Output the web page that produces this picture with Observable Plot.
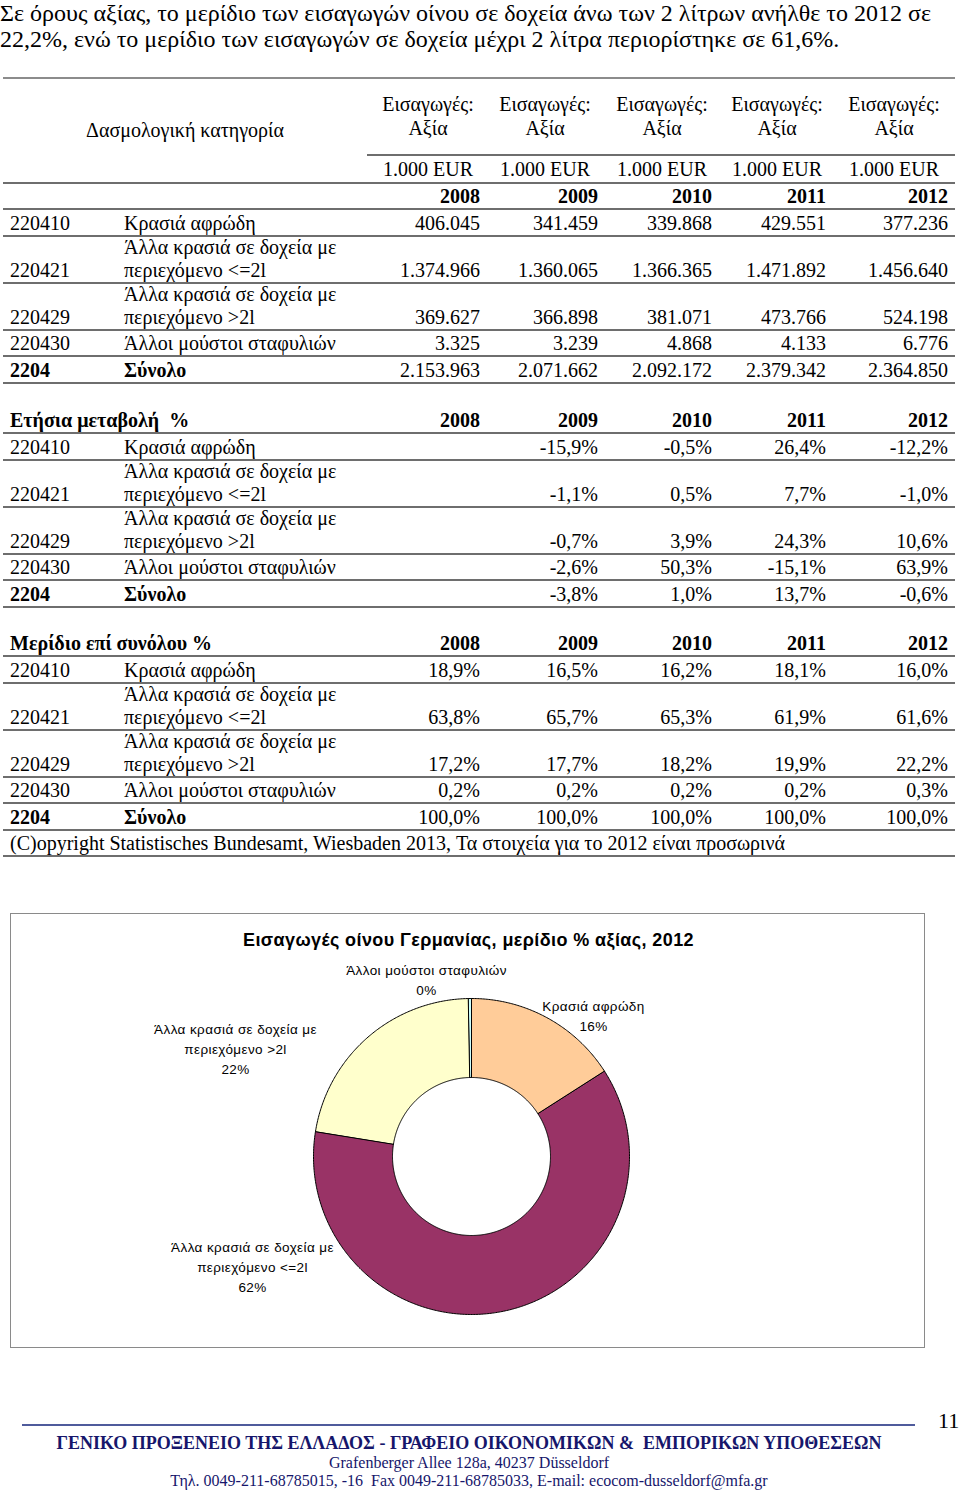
<!DOCTYPE html>
<html>
<head>
<meta charset="utf-8">
<script src="https://cdn.jsdelivr.net/npm/d3@7"></script>
<script src="https://cdn.jsdelivr.net/npm/@observablehq/plot@0.6"></script>
<style>
  html, body { margin: 0; padding: 0; background: #fff; }
  #page { position: relative; width: 960px; height: 1493px; overflow: hidden; font-family: "Liberation Serif", "Times New Roman", serif; color: #000; }
  .t { position: absolute; white-space: pre; }
  .r { position: absolute; }
  #chartbox { position: absolute; left: 10px; top: 913px; width: 915px; height: 435px; box-sizing: border-box; border: 1px solid #8a8a8a; background: #fff; }
</style>
</head>
<body>
<div id="page"></div>
<script>
// ---------------- DATA ----------------
const introLines = [
  "Σε όρους αξίας, το μερίδιο των εισαγωγών οίνου σε δοχεία άνω των 2 λίτρων ανήλθε το 2012 σε",
  "22,2%, ενώ το μερίδιο των εισαγωγών σε δοχεία μέχρι 2 λίτρα περιορίστηκε σε 61,6%."
];
const years = [2008, 2009, 2010, 2011, 2012];
const headerCategory = "Δασμολογική κατηγορία";
const headerCol = ["Εισαγωγές:", "Αξία"];
const unitLabel = "1.000 EUR";
const codes = ["220410", "220421", "220429", "220430", "2204"];
const descriptions = [
  ["Κρασιά αφρώδη"],
  ["Άλλα κρασιά σε δοχεία με", "περιεχόμενο <=2l"],
  ["Άλλα κρασιά σε δοχεία με", "περιεχόμενο >2l"],
  ["Άλλοι μούστοι σταφυλιών"],
  ["Σύνολο"]
];
const valueRows = [
  [406045, 341459, 339868, 429551, 377236],
  [1374966, 1360065, 1366365, 1471892, 1456640],
  [369627, 366898, 381071, 473766, 524198],
  [3325, 3239, 4868, 4133, 6776],
  [2153963, 2071662, 2092172, 2379342, 2364850]
];
const changeTitle = "Ετήσια μεταβολή  %";
const changeRows = [
  [null, -15.9, -0.5, 26.4, -12.2],
  [null, -1.1, 0.5, 7.7, -1.0],
  [null, -0.7, 3.9, 24.3, 10.6],
  [null, -2.6, 50.3, -15.1, 63.9],
  [null, -3.8, 1.0, 13.7, -0.6]
];
const shareTitle = "Μερίδιο επί συνόλου %";
const shareRows = [
  [18.9, 16.5, 16.2, 18.1, 16.0],
  [63.8, 65.7, 65.3, 61.9, 61.6],
  [17.2, 17.7, 18.2, 19.9, 22.2],
  [0.2, 0.2, 0.2, 0.2, 0.3],
  [100.0, 100.0, 100.0, 100.0, 100.0]
];
const copyright = "(C)opyright Statistisches Bundesamt, Wiesbaden 2013, Τα στοιχεία για το 2012 είναι προσωρινά";

const chartTitle = "Εισαγωγές οίνου Γερμανίας, μερίδιο % αξίας, 2012";
const sliceNames = ["Κρασιά αφρώδη", "Άλλα κρασιά σε δοχεία με\nπεριεχόμενο <=2l", "Άλλα κρασιά σε δοχεία με\nπεριεχόμενο >2l", "Άλλοι μούστοι σταφυλιών"];
const sliceValues = [377236, 1456640, 524198, 6776];
const sliceColors = ["#FFCC99", "#993366", "#FFFFCC", "#CCFFFF"];

const footerTitle = "ΓΕΝΙΚΟ ΠΡΟΞΕΝΕΙΟ ΤΗΣ ΕΛΛΑΔΟΣ - ΓΡΑΦΕΙΟ ΟΙΚΟΝΟΜΙΚΩΝ &  ΕΜΠΟΡΙΚΩΝ ΥΠΟΘΕΣΕΩΝ";
const footerAddress = "Grafenberger Allee 128a, 40237 Düsseldorf";
const footerContact = "Τηλ. 0049-211-68785015, -16  Fax 0049-211-68785033, E-mail: ecocom-dusseldorf@mfa.gr";
const pageNumber = "11";

// ---------------- LAYOUT ----------------
const page = document.getElementById("page");
const FS = 20;
function txt(s, x, y, o = {}) {
  const size = o.size || FS;
  const lh = Math.round(size * 1.3);
  const d = document.createElement("div");
  d.className = "t";
  d.textContent = s;
  d.style.fontSize = size + "px";
  d.style.lineHeight = lh + "px";
  d.style.top = (y - lh / 2) + "px";
  if (o.weight) d.style.fontWeight = o.weight;
  if (o.family) d.style.fontFamily = o.family;
  if (o.color) d.style.color = o.color;
  if (o.spacing) d.style.letterSpacing = o.spacing + "px";
  const align = o.align || "left";
  if (align === "left") d.style.left = x + "px";
  else if (align === "right") { d.style.right = (960 - x) + "px"; }
  else { d.style.left = (x - 480) + "px"; d.style.width = "960px"; d.style.textAlign = "center"; }
  page.appendChild(d);
  return d;
}
function rule(x1, x2, y, th = 2, color = "#6e6e6e") {
  const d = document.createElement("div");
  d.className = "r";
  d.style.left = x1 + "px"; d.style.width = (x2 - x1) + "px";
  d.style.top = (y - th / 2) + "px"; d.style.height = th + "px";
  d.style.background = color;
  page.appendChild(d);
}
const fmtInt = n => String(n).replace(/\B(?=(\d{3})+(?!\d))/g, ".");
const fmtPct = v => v == null ? "" : v.toFixed(1).replace(".", ",") + "%";

// intro
txt(introLines[0], 0, 13, { size: 24 });
txt(introLines[1], 0, 39, { size: 24 });

const colRight = [480, 598, 712, 826, 948];
const colCenter = [428, 545, 662, 777, 894];
const X0 = 3, X1 = 955, codeX = 10, descX = 124;
const SINGLE = 26.5, DOUBLE = 47;

// header
rule(X0, X1, 78, 2.5, "#8c8c8c");
txt(headerCategory, 185, 130, { align: "center" });
colCenter.forEach(c => { txt(headerCol[0], c, 104, { align: "center" }); txt(headerCol[1], c, 128, { align: "center" }); });
rule(367, X1, 155);
colCenter.forEach(c => txt(unitLabel, c, 169, { align: "center" }));
rule(X0, X1, 183);
years.forEach((yr, i) => txt(String(yr), colRight[i], 196, { align: "right", weight: "bold" }));
rule(X0, X1, 209);

function drawRows(top, rows, fmt) {
  let y = top;
  codes.forEach((code, i) => {
    const lines = descriptions[i];
    const h = lines.length > 1 ? DOUBLE : SINGLE;
    const bold = i === codes.length - 1 ? "bold" : null;
    const lastY = lines.length > 1 ? y + 34 : y + 13.5;
    if (lines.length > 1) { txt(lines[0], descX, y + 11); txt(lines[1], descX, y + 34); }
    else txt(lines[0], descX, lastY, { weight: bold });
    txt(code, codeX, lastY, { weight: bold });
    rows[i].forEach((v, j) => { const s = fmt(v); if (s) txt(s, colRight[j], lastY, { align: "right" }); });
    y += h;
    rule(X0, X1, y);
  });
  return y;
}
drawRows(209, valueRows, fmtInt);

// change section
txt(changeTitle, codeX, 420, { weight: "bold" });
years.forEach((yr, i) => txt(String(yr), colRight[i], 420, { align: "right", weight: "bold" }));
rule(X0, X1, 433);
drawRows(433, changeRows, fmtPct);

// share section
txt(shareTitle, codeX, 643, { weight: "bold" });
years.forEach((yr, i) => txt(String(yr), colRight[i], 643, { align: "right", weight: "bold" }));
rule(X0, X1, 656);
const endY = drawRows(656, shareRows, fmtPct);
txt(copyright, codeX, endY + 13.5);
rule(X0, X1, endY + SINGLE);

// ---------------- CHART ----------------
const box = document.createElement("div");
box.id = "chartbox";
page.appendChild(box);

const W = 913, H = 433;
const cx = 460, cy = 242, R = 158, r = 79;
const total = d3.sum(sliceValues);
const pcts = sliceValues.map(v => Math.round(v / total * 100));
const pie = d3.pie().sort(null).value(d => d)(sliceValues);
const slicePts = [];
pie.forEach((p, i) => {
  const a0 = p.startAngle, a1 = p.endAngle;
  const n = Math.max(2, Math.ceil((a1 - a0) / 0.01));
  for (let k = 0; k <= n; k++) { const a = a0 + (a1 - a0) * k / n; slicePts.push({ slice: sliceNames[i], x: cx + R * Math.sin(a), y: cy - R * Math.cos(a) }); }
  for (let k = n; k >= 0; k--) { const a = a0 + (a1 - a0) * k / n; slicePts.push({ slice: sliceNames[i], x: cx + r * Math.sin(a), y: cy - r * Math.cos(a) }); }
});

// label anchor positions (layout)
const labelPos = [[582, 100], [241, 351], [224, 133], [415, 64.5]];
const labels = sliceNames.map((name, i) => ({ text: name + "\n" + pcts[i] + "%", x: labelPos[i][0], y: labelPos[i][1] }));

const chart = Plot.plot({
  width: W, height: H, margin: 0,
  x: { domain: [0, W], range: [0, W], axis: null },
  y: { domain: [0, H], range: [0, H], axis: null },
  color: { domain: sliceNames, range: sliceColors },
  style: { background: "transparent", fontFamily: "Liberation Sans, Arial, sans-serif" },
  marks: [
    Plot.line(slicePts, { x: "x", y: "y", z: "slice", fill: "slice", stroke: "#000", strokeWidth: 1, curve: "linear-closed" }),
    Plot.text(labels, { x: "x", y: "y", text: "text", fontSize: 13.5, lineHeight: 1.48, lineAnchor: "middle", fill: "#000", fontFamily: "Liberation Sans, Arial, sans-serif", style: "letter-spacing:0.4px" }),
    Plot.text([chartTitle], { x: () => 457, y: () => 26, text: d => d, fontSize: 18, fontWeight: "bold", fill: "#000", fontFamily: "Liberation Sans, Arial, sans-serif" })
  ]
});
chart.style.display = "block";
chart.querySelectorAll("text").forEach(t => {
  const fs = t.getAttribute("font-size");
  if (fs === "18") t.setAttribute("letter-spacing", "0.5");
  else t.setAttribute("letter-spacing", "0.4");
});
box.appendChild(chart);

// ---------------- FOOTER ----------------
rule(22, 915, 1425, 2, "#4f5b9c");
txt(pageNumber, 938, 1420, { size: 22 });
const navy = "#16166b";
txt(footerTitle, 469, 1443, { align: "center", size: 18, weight: "bold", color: navy });
txt(footerAddress, 469, 1462, { align: "center", size: 16, color: navy });
txt(footerContact, 469, 1480, { align: "center", size: 16, color: navy });
</script>
</body>
</html>
